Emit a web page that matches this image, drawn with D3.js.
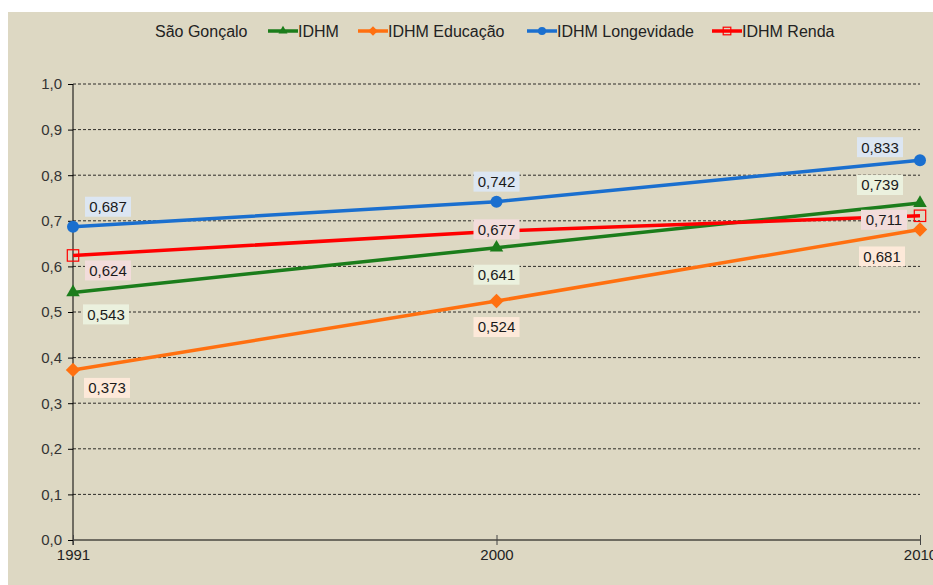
<!DOCTYPE html>
<html>
<head>
<meta charset="utf-8">
<script src="https://cdn.jsdelivr.net/npm/d3@7"></script>
<style>
  body { margin: 0; background: #fff; }
  svg { display: block; font-family: "Liberation Sans", Arial, sans-serif; }
</style>
</head>
<body>
<svg id="chart" width="933" height="585"></svg>
<script>
// data
const years = ['1991', '2000', '2010'];
const idhm = [0.543, 0.641, 0.739];
const educacao = [0.373, 0.524, 0.681];
const longevidade = [0.687, 0.742, 0.833];
const renda = [0.624, 0.677, 0.711];
const yTicks = [0, 0.1, 0.2, 0.3, 0.4, 0.5, 0.6, 0.7, 0.8, 0.9, 1.0];

const series = [
  { name: 'IDHM Educação', values: educacao, color: '#ff7010', box: '#fde9d9', marker: 'diamond',
    lab: [[34, 18], [0, 26], [-38, 27]] },
  { name: 'IDHM', values: idhm, color: '#1b7d1b', box: '#ebf1de', marker: 'triangle',
    lab: [[33, 22], [0, 27], [-40, -18]] },
  { name: 'IDHM Renda', values: renda, color: '#ff0000', box: '#f2dcdb', marker: 'square',
    lab: [[35, 15], [0, -2], [-36, 4]] },
  { name: 'IDHM Longevidade', values: longevidade, color: '#1a6fcf', box: '#dce6f2', marker: 'circle',
    lab: [[35, -20], [0, -20], [-40, -13]] }
];
const legendOrder = ['IDHM', 'IDHM Educação', 'IDHM Longevidade', 'IDHM Renda'];

const svg = d3.select('svg#chart');
const fmt = v => d3.format('.3f')(v).replace('.', ',');

// beige panel
svg.append('rect')
  .attr('x', 8).attr('y', 12)
  .attr('width', 933 - 8).attr('height', 585 - 12)
  .attr('fill', '#ddd8c3');

const x = d3.scalePoint().domain(years).range([73, 920]);
const y = d3.scaleLinear().domain([0, 1]).range([540, 84]);

// grid
svg.append('g').selectAll('line')
  .data(yTicks.filter(d => d > 0))
  .enter().append('line')
  .attr('x1', 73).attr('x2', 920)
  .attr('y1', d => y(d)).attr('y2', d => y(d))
  .attr('stroke', '#000')
  .attr('stroke-width', 0.8)
  .attr('stroke-dasharray', '3,2');

// y axis
const yAxis = svg.append('g')
  .attr('transform', 'translate(73,0)')
  .call(d3.axisLeft(y).tickValues(yTicks).tickSize(5).tickPadding(6)
    .tickFormat(d => d3.format('.1f')(d).replace('.', ',')));
yAxis.select('.domain').remove();
yAxis.selectAll('.tick line').attr('stroke', '#000');
yAxis.selectAll('text').attr('font-size', 15).attr('fill', '#333')
  .attr('font-family', '"Liberation Sans", Arial, sans-serif');
svg.append('line')
  .attr('x1', 73).attr('x2', 73)
  .attr('y1', y(1)).attr('y2', 545)
  .attr('stroke', '#000').attr('stroke-width', 1);

// x axis
const xAxis = svg.append('g')
  .attr('transform', 'translate(0,540)')
  .call(d3.axisBottom(x).tickSize(5).tickPadding(4));
xAxis.select('.domain').attr('d', 'M73,0H920').attr('stroke', '#000');
xAxis.selectAll('.tick line').attr('y1', -5).attr('y2', 5).attr('stroke', '#444');
xAxis.selectAll('text').attr('font-size', 15).attr('fill', '#222')
  .attr('font-family', '"Liberation Sans", Arial, sans-serif');

function drawMarker(g, type, color, size) {
  if (type === 'circle') {
    g.append('circle').attr('r', size * 0.5).attr('fill', color);
  } else if (type === 'triangle') {
    g.append('path').attr('d', d3.symbol(d3.symbolTriangle, size * size * 0.55)).attr('fill', color);
  } else if (type === 'diamond') {
    g.append('path').attr('d', `M0,${-size * 0.6}L${size * 0.6},0L0,${size * 0.6}L${-size * 0.6},0Z`).attr('fill', color);
  } else if (type === 'square') {
    const s = size * 0.95;
    g.append('rect').attr('x', -s / 2).attr('y', -s / 2).attr('width', s).attr('height', s)
      .attr('fill', 'none').attr('stroke', color).attr('stroke-width', 1.2);
  }
}

const line = d3.line().x(d => x(d.year)).y(d => y(d.value));

series.forEach(s => {
  const pts = years.map((yr, i) => ({ year: yr, value: s.values[i] }));
  svg.append('path')
    .datum(pts)
    .attr('d', line)
    .attr('fill', 'none')
    .attr('stroke', s.color)
    .attr('stroke-width', 3.5);
  pts.forEach(p => {
    const g = svg.append('g').attr('transform', `translate(${x(p.year)},${y(p.value)})`);
    drawMarker(g, s.marker, s.color, 12);
  });
});

// data labels on top of the lines
series.forEach(s => {
  years.forEach((yr, i) => {
    const cx = x(yr) + s.lab[i][0];
    const cy = y(s.values[i]) + s.lab[i][1];
    const g = svg.append('g').attr('transform', `translate(${cx},${cy})`);
    g.append('rect')
      .attr('x', -23).attr('y', -10)
      .attr('width', 46).attr('height', 20)
      .attr('fill', s.box);
    g.append('text')
      .attr('text-anchor', 'middle')
      .attr('dy', '0.36em')
      .attr('font-size', 15)
      .attr('fill', '#1a1a1a')
      .text(fmt(s.values[i]));
  });
});

// legend
const legend = svg.append('g').attr('transform', 'translate(0,31)');
legend.append('text')
  .attr('x', 155).attr('dy', '0.35em')
  .attr('font-size', 16).attr('fill', '#222')
  .text('São Gonçalo');
const legX = [268, 358, 527, 712];
legendOrder.forEach((name, i) => {
  const s = series.find(d => d.name === name);
  const g = legend.append('g').attr('transform', `translate(${legX[i]},0)`);
  g.append('line').attr('x1', 0).attr('x2', 30).attr('stroke', s.color).attr('stroke-width', 3.5);
  const m = g.append('g').attr('transform', 'translate(15,0)');
  drawMarker(m, s.marker, s.color, 8);
  g.append('text')
    .attr('x', 30).attr('dy', '0.35em')
    .attr('font-size', 16).attr('fill', '#222')
    .text(name);
});
</script>
</body>
</html>
